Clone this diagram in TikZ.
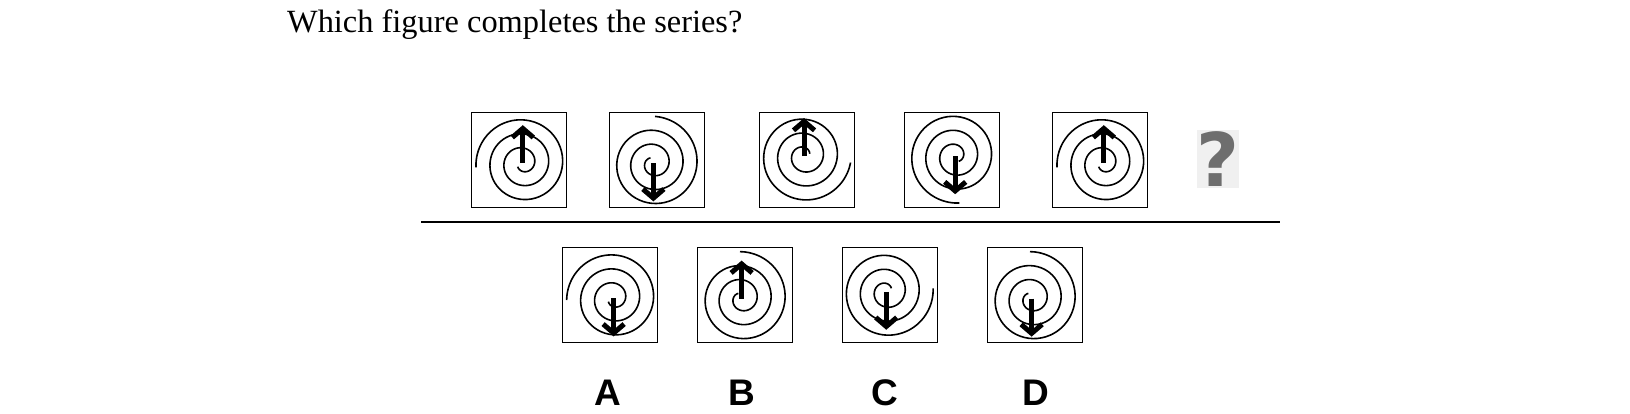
\documentclass[tikz,border=0pt]{standalone}
\usepackage{fontspec}
\setmainfont{Liberation Serif}
\newfontfamily\optfont{Liberation Sans}
\newfontfamily\markfont{DejaVu Sans}
\usetikzlibrary{arrows.meta}
\definecolor{qgray}{rgb}{0.43, 0.43, 0.43}
\definecolor{qback}{rgb}{0.94, 0.94, 0.94}
\tikzset{figbox/.style = {draw, line width=1.3, minimum size=95, inner sep=0}}
\tikzset{swirl/.style = {line width=1.6, smooth}}
\tikzset{pointer/.style = {line width=5,
                           -{Straight Barb[length=9pt, width=21pt]}}}
\tikzset{optlabel/.style = {anchor=base, inner sep=0,
                            font=\optfont\bfseries\fontsize{37}{40}\selectfont}}
% spiral in box #1, outer end at angle #2, arrow up (1) or down (-1)
\newcommand{\spiralfig}[3]{%
  \begin{scope}[shift={(#1)}, shift={({#2+180}:3.5)}, shift={({#2+270}:3.5)}]
    \draw[swirl] plot[domain=0:1050, samples=170] ({#2+\x}:{47-14*\x/360});
    \draw[pointer] (0,0) -- (0,{-38*(#3)});
  \end{scope}}

\begin{document}
\begin{tikzpicture}[x=1pt, y=-1pt]
  \useasboundingbox (0,0) rectangle (1630,414);
  \node[anchor=base west, inner sep=0, font=\fontsize{32.4}{36}\selectfont]
    (title) at (287,33) {Which figure completes the series?};
  % the series
  \node[figbox] (s1) at (519,160) {};
  \node[figbox] (s2) at (657,160) {};
  \node[figbox] (s3) at (807,160) {};
  \node[figbox] (s4) at (952,160) {};
  \node[figbox] (s5) at (1100,160) {};
  \spiralfig{s1}{175}{1}
  \spiralfig{s2}{272}{-1}
  \spiralfig{s3}{368}{1}
  \spiralfig{s4}{445}{-1}
  \spiralfig{s5}{175}{1}
  \node[fill=qback, text=qgray, minimum width=42, minimum height=58, inner sep=0,
        font=\markfont\bfseries\fontsize{74}{74}\selectfont]
    (ask) at (1218,159) {?};
  \coordinate (rl) at (421,222);
  \coordinate (rr) at (1280,222);
  \draw[line width=1.5] (rl) -- (rr);
  % the options
  \node[figbox] (oa) at (610,295) {};
  \node[figbox] (ob) at (745,295) {};
  \node[figbox] (oc) at (890,295) {};
  \node[figbox] (od) at (1035,295) {};
  \spiralfig{oa}{178}{-1}
  \spiralfig{ob}{268}{1}
  \spiralfig{oc}{356}{-1}
  \spiralfig{od}{268}{-1}
  \node[optlabel] (la) at (608,405) {A};
  \node[optlabel] (lb) at (742,405) {B};
  \node[optlabel] (lc) at (885,405) {C};
  \node[optlabel] (ld) at (1036,405) {D};
\end{tikzpicture}
\end{document}
